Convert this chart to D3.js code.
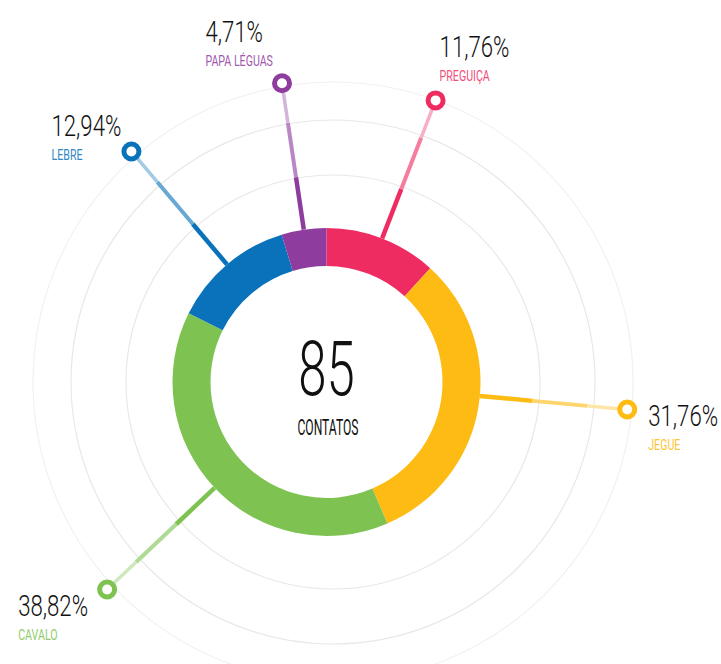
<!DOCTYPE html>
<html>
<head>
<meta charset="utf-8">
<script src="https://cdn.jsdelivr.net/npm/d3@7"></script>
<style>
  body { margin: 0; background: #fff; }
  text { font-family: Roboto, 'Noto Sans', sans-serif; }
</style>
</head>
<body>
<svg id="chart" width="721" height="664"></svg>
<script>
// data
const categories = ['Preguiça', 'Jegue', 'Cavalo', 'Lebre', 'Papa Léguas'];
const contacts = [10, 27, 33, 11, 4];
const colors = ['#ef2c62', '#fdbb13', '#7ec352', '#0a72ba', '#8e3d9e'];
const centerLabel = 'CONTATOS';

// layout
const width = 721, height = 664;
const cx = 326.5, cy = 382;
const ringCx = 333;
const innerR = 116, outerR = 154;
const ringRadii = [207, 262, 300];
const markerR = 302, markerSize = 7.5;
const segWidths = [4.5, 4, 3.5];
const segFade = [0, 0.38, 0.62];

// hand placement of the call-out labels (pct baseline relative to marker)
const labelPlacement = {
  'Preguiça':    { dx: 4,   dy: -43 },
  'Jegue':       { dx: 21,  dy: 16, turn: -4.3 },
  'Cavalo':      { dx: -19, dy: 26 },
  'Lebre':       { dx: -10, dy: -15 },
  'Papa Léguas': { dx: -19, dy: -41 }
};

const total = d3.sum(contacts);
const slices = categories.map((name, i) => ({ name, value: contacts[i], color: colors[i] }));
const fmtPct = (v) => (v / total * 100).toFixed(2).replace('.', ',') + '%';

const svg = d3.select('#chart');

// background rings
svg.append('g')
  .selectAll('circle')
  .data(ringRadii)
  .join('circle')
    .attr('cx', ringCx)
    .attr('cy', cy)
    .attr('r', (d) => d)
    .attr('fill', 'none')
    .attr('stroke', (d, i) => i === 2 ? '#f1f1f1' : '#e8e8e8')
    .attr('stroke-width', 1.2);

const pie = d3.pie().sort(null).value((d) => d.value);
const arcs = pie(slices);
const arc = d3.arc().innerRadius(innerR).outerRadius(outerR);

const g = svg.append('g').attr('transform', `translate(${cx},${cy})`);

g.selectAll('path.slice')
  .data(arcs)
  .join('path')
    .attr('class', 'slice')
    .attr('d', arc)
    .attr('fill', (d) => d.data.color);

const leaderAngle = (d) => {
  const p = labelPlacement[d.data.name] || {};
  return (d.startAngle + d.endAngle) / 2 + (p.turn || 0) * Math.PI / 180;
};
const polar = (a, r) => [Math.sin(a) * r, -Math.cos(a) * r];

// leader lines, three segments fading out
const stops = [outerR, ringRadii[0], ringRadii[1], markerR - markerSize - 2];
arcs.forEach((d) => {
  const a = leaderAngle(d);
  for (let s = 0; s < 3; s++) {
    const p0 = polar(a, stops[s]);
    const p1 = polar(a, stops[s + 1]);
    g.append('line')
      .attr('x1', p0[0]).attr('y1', p0[1])
      .attr('x2', p1[0]).attr('y2', p1[1])
      .attr('stroke', d3.interpolateRgb(d.data.color, '#fff')(segFade[s]))
      .attr('stroke-width', segWidths[s]);
  }
});

// markers
g.selectAll('circle.marker')
  .data(arcs)
  .join('circle')
    .attr('class', 'marker')
    .attr('cx', (d) => polar(leaderAngle(d), markerR)[0])
    .attr('cy', (d) => polar(leaderAngle(d), markerR)[1])
    .attr('r', markerSize)
    .attr('fill', '#fff')
    .attr('stroke', (d) => d.data.color)
    .attr('stroke-width', 5);

// condensed text helper
const addText = (parent, x, y, str, opts) => {
  const t = parent.append('g')
    .attr('transform', `translate(${x},${y}) scale(${opts.sx},1)`)
    .append('text')
    .attr('text-anchor', opts.anchor || 'start')
    .attr('font-size', opts.size)
    .attr('font-weight', opts.weight || 300)
    .attr('fill', opts.fill || '#111')
    .text(str);
  return t.node().getComputedTextLength() * opts.sx;
};

// call-out labels
arcs.forEach((d) => {
  const p = labelPlacement[d.data.name];
  const m = polar(leaderAngle(d), markerR);
  const pct = fmtPct(d.data.value);
  const tmp = svg.append('text').attr('font-size', 30).attr('font-weight', 300)
    .style('font-family', 'Roboto').text(pct);
  const w = tmp.node().getComputedTextLength() * 0.74;
  tmp.remove();
  const x0 = p.dx < 0 ? m[0] + p.dx - w : m[0] + p.dx;
  const y0 = m[1] + p.dy;
  addText(g, x0, y0, pct, { size: 30, sx: 0.74 });
  addText(g, x0, y0 + 24, d.data.name.toUpperCase(), { size: 14, sx: 0.76, weight: 400, fill: d3.interpolateRgb(d.data.color, '#fff')(0.15) });
});

// center total
addText(g, 0, 13, String(total), { size: 76, sx: 0.67, anchor: 'middle' });
addText(g, 1.5, 53, centerLabel, { size: 22, sx: 0.55, anchor: 'middle', weight: 400 });
</script>
</body>
</html>
